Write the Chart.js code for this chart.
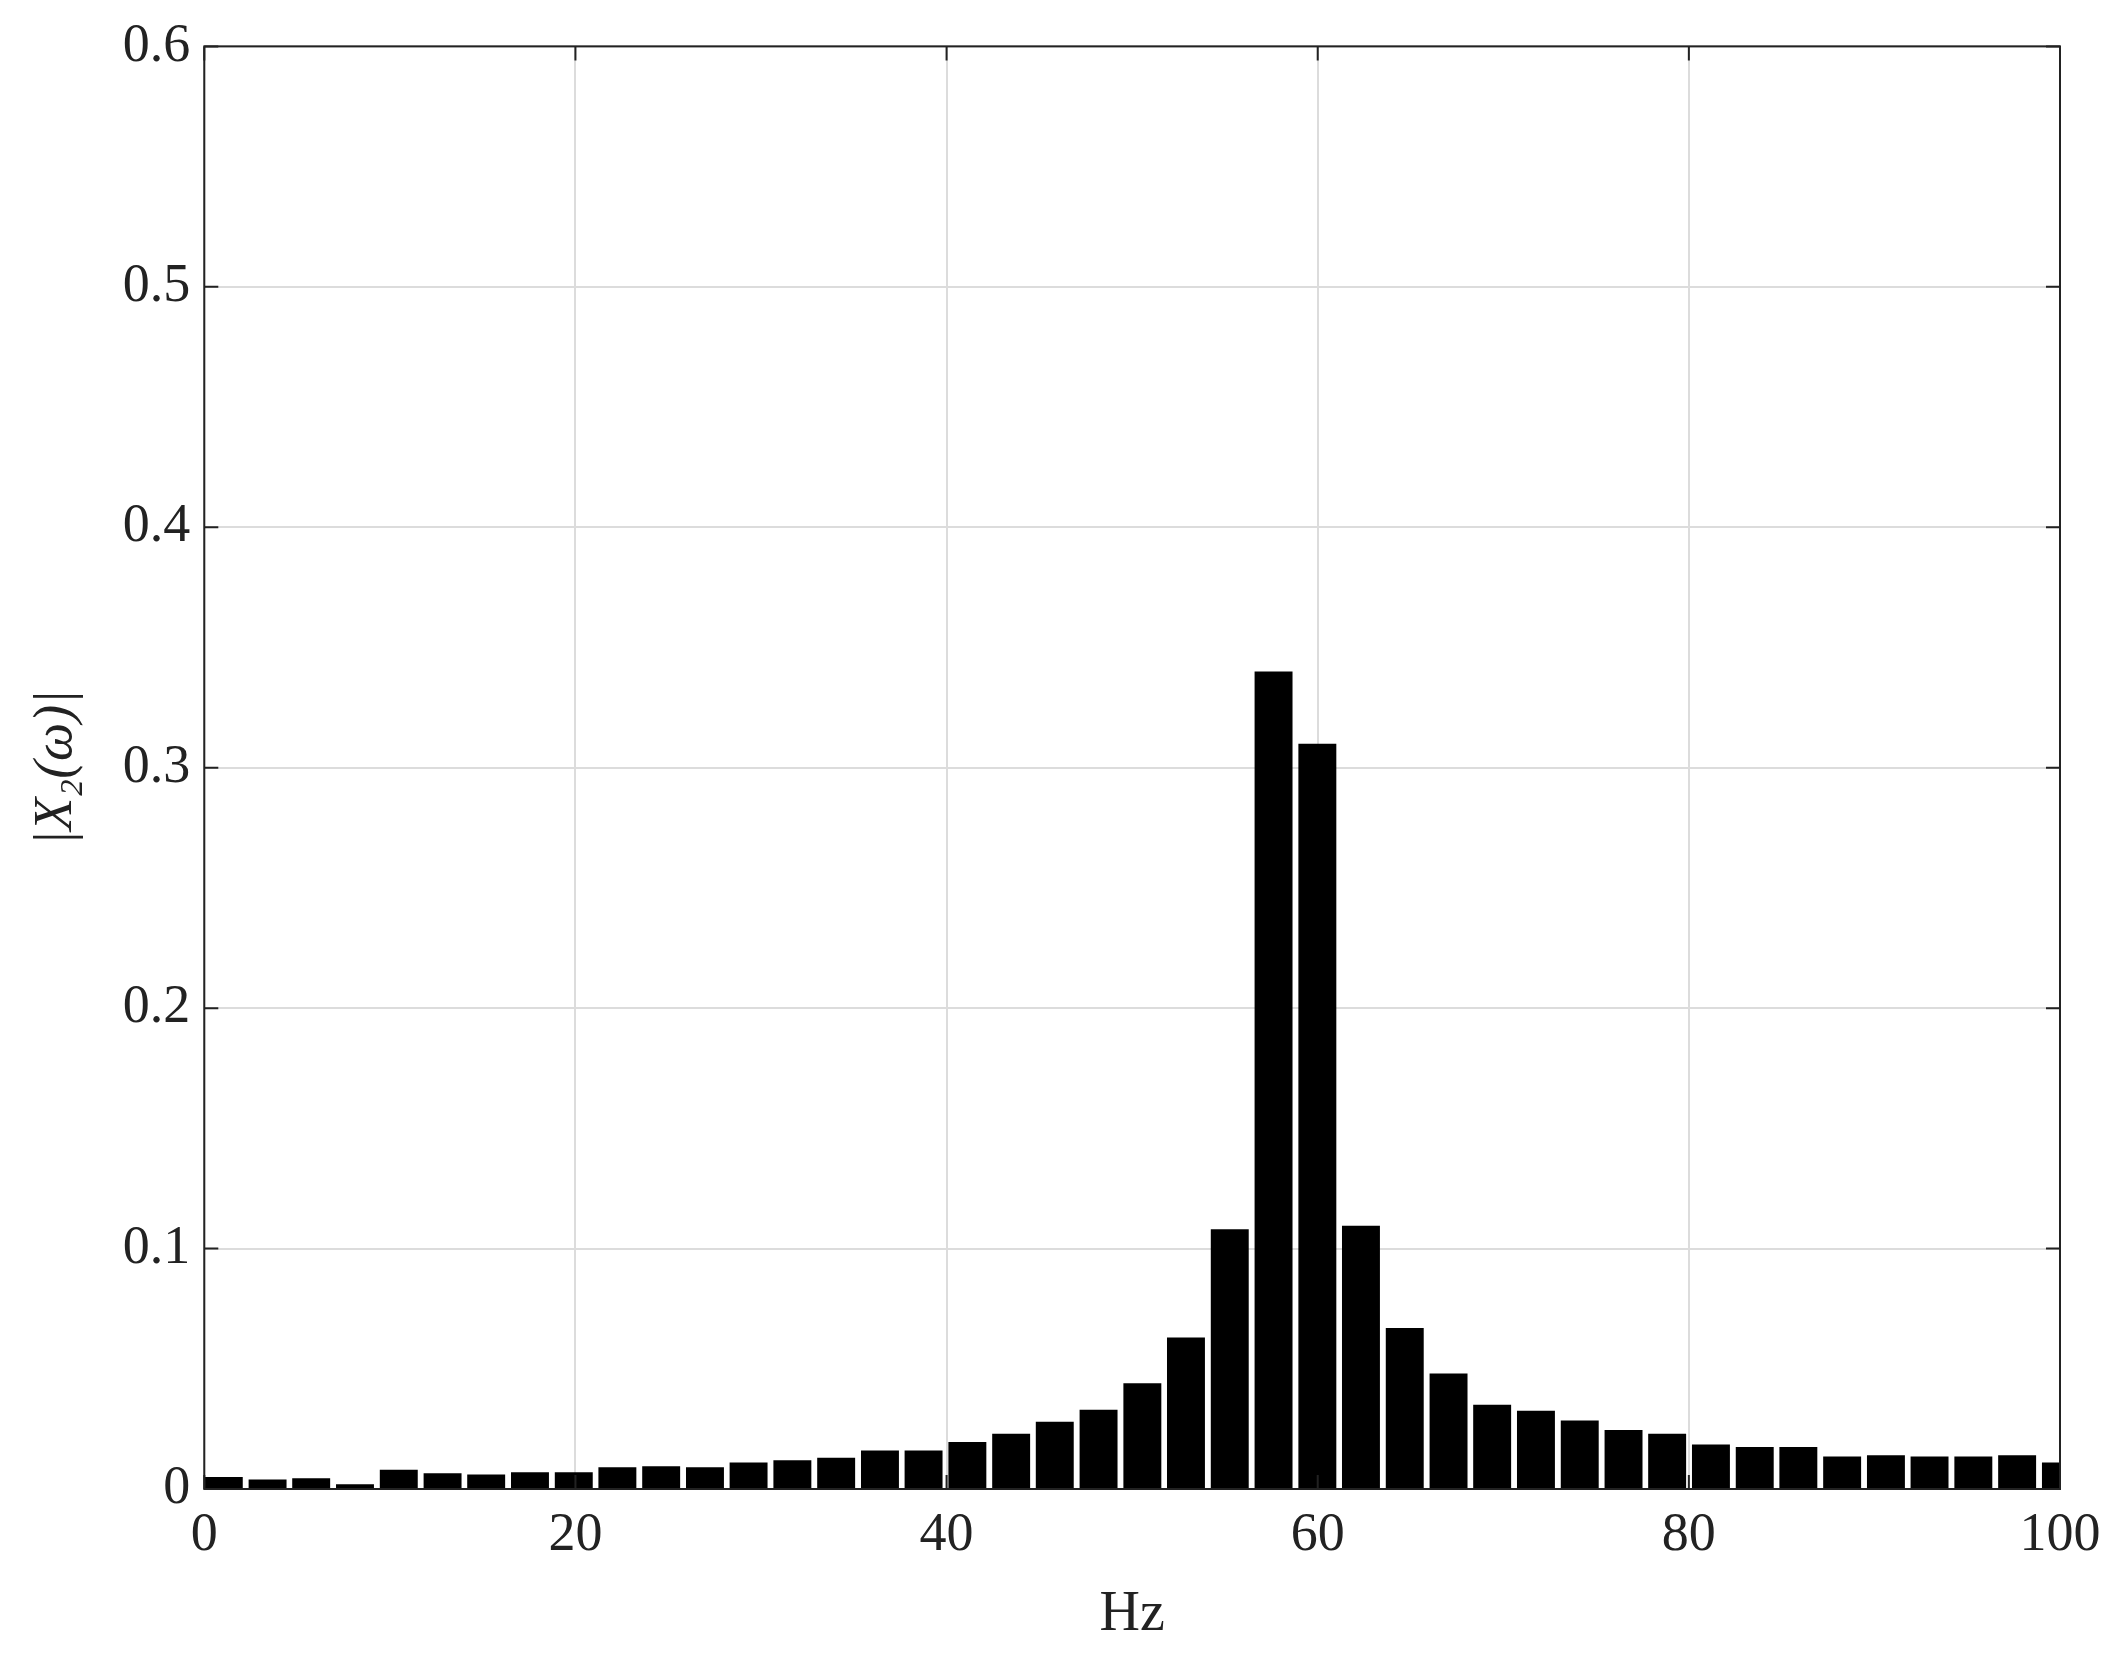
<!DOCTYPE html>
<html>
<head>
<meta charset="utf-8">
<script src="https://cdn.jsdelivr.net/npm/chart.js@4/dist/chart.umd.min.js"></script>
<style>
  html, body { margin: 0; padding: 0; background: #fff; }
  #wrap { width: 2122px; height: 1673px; }
</style>
</head>
<body>
<div id="wrap"><canvas id="myChart"></canvas></div>
<script>
// frequency bins (Hz) and magnitudes
const freqs = [1.05, 3.41, 5.76, 8.12, 10.48, 12.84, 15.19, 17.55, 19.91, 22.26, 24.62,
  26.98, 29.33, 31.69, 34.05, 36.41, 38.76, 41.12, 43.48, 45.83, 48.19, 50.55, 52.90,
  55.26, 57.62, 59.98, 62.33, 64.69, 67.05, 69.40, 71.76, 74.12, 76.48, 78.83, 81.19,
  83.55, 85.90, 88.26, 90.62, 92.97, 95.33, 97.69, 100.05];
const magnitudes = [0.005, 0.004, 0.0045, 0.002, 0.008, 0.0065, 0.006, 0.007, 0.007, 0.009,
  0.0095, 0.009, 0.011, 0.012, 0.013, 0.016, 0.016, 0.0195, 0.023, 0.028, 0.033, 0.044,
  0.063, 0.108, 0.340, 0.310, 0.1095, 0.067, 0.048, 0.035, 0.0325, 0.0285, 0.0245, 0.023,
  0.0185, 0.0175, 0.0175, 0.0135, 0.014, 0.0135, 0.0135, 0.014, 0.011];
const xTicks = [0, 20, 40, 60, 80, 100];
const yTicks = [0, 0.1, 0.2, 0.3, 0.4, 0.5, 0.6];

const fontFam = '"Liberation Serif", "DejaVu Serif", serif';

// inward tick marks on all four sides, like the original
const innerTicks = {
  id: 'innerTicks',
  afterDraw(chart) {
    const { ctx, chartArea: a, scales } = chart;
    ctx.save();
    ctx.strokeStyle = '#222';
    ctx.lineWidth = 2;
    const len = 14;
    ctx.beginPath();
    xTicks.forEach(v => {
      const x = scales.x.getPixelForValue(v);
      ctx.moveTo(x, a.bottom); ctx.lineTo(x, a.bottom - len);
      ctx.moveTo(x, a.top); ctx.lineTo(x, a.top + len);
    });
    yTicks.forEach(v => {
      const y = scales.y.getPixelForValue(v);
      ctx.moveTo(a.left, y); ctx.lineTo(a.left + len, y);
      ctx.moveTo(a.right, y); ctx.lineTo(a.right - len, y);
    });
    ctx.stroke();
    ctx.strokeRect(a.left, a.top, a.right - a.left, a.bottom - a.top);
    ctx.restore();
  }
};

new Chart(document.getElementById('myChart'), {
  type: 'bar',
  data: {
    datasets: [{
      data: freqs.map((f, i) => ({ x: f, y: magnitudes[i] })),
      backgroundColor: '#000',
      borderWidth: 0,
      categoryPercentage: 1,
      barPercentage: 0.87,
      clip: 0
    }]
  },
  options: {
    responsive: true,
    maintainAspectRatio: false,
    animation: false,
    layout: { padding: { top: 38, right: 62, left: 20, bottom: 20 } },
    plugins: { legend: { display: false }, tooltip: { enabled: false } },
    scales: {
      x: {
        type: 'linear', min: 0, max: 100, offset: false,
        afterBuildTicks: s => { s.ticks = xTicks.map(v => ({ value: v })); },
        grid: { color: '#dcdcdc', lineWidth: 2, drawTicks: false, offset: false },
        border: { display: false },
        ticks: { color: '#222', font: { family: fontFam, size: 54 }, padding: 14, maxRotation: 0 },
        title: { display: true, text: 'Hz', color: '#222', font: { family: fontFam, size: 56 }, padding: { top: 0 } }
      },
      y: {
        min: 0, max: 0.6,
        afterBuildTicks: s => { s.ticks = yTicks.map(v => ({ value: v })); },
        grid: { color: '#dcdcdc', lineWidth: 2, drawTicks: false },
        border: { display: false },
        ticks: { color: '#222', font: { family: fontFam, size: 54 }, padding: 14 },
        title: { display: true, text: '|X₂(ω)|', color: '#222', font: { family: fontFam, size: 54, style: 'italic' }, padding: { bottom: 20 } }
      }
    }
  },
  plugins: [innerTicks]
});
</script>
</body>
</html>
